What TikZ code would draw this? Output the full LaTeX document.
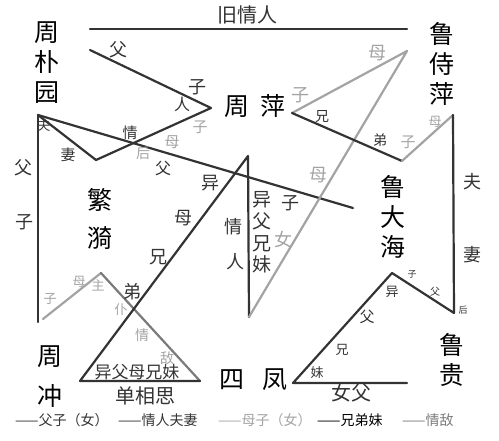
\documentclass[tikz,border=0pt]{standalone}
\usepackage{fontspec}
\setmainfont{Noto Sans CJK SC}
\definecolor{dk}{HTML}{333333}
\definecolor{lg}{HTML}{A3A3A3}
\definecolor{mg}{HTML}{7A7A7A}
\begin{document}
\begin{tikzpicture}[x=1pt,y=-1pt,
  dline/.style={draw=dk, line width=2.2pt, line join=round, line cap=round},
  lline/.style={draw=lg, line width=2.2pt, line join=round, line cap=round},
  mline/.style={draw=mg, line width=2.2pt, line join=round, line cap=round},
  nm/.style={inner sep=0pt, align=center, text=black, font=\fontsize{25}{30}\selectfont},
  lb/.style={inner sep=0pt, align=center, text=dk, font=\fontsize{#1}{#1}\selectfont},
  gl/.style={inner sep=0pt, align=center, text=lg, font=\fontsize{#1}{#1}\selectfont},
  lgd/.style={inner sep=0pt, anchor=west, font=\fontsize{14}{14}\selectfont}]
\useasboundingbox (0,0) rectangle (499,440);
% vertices
\coordinate (ta) at (90,29);
\coordinate (tb) at (407,29);
\coordinate (fa) at (90,50);
\coordinate (fb) at (211,108);
\coordinate (zp) at (38,115);
\coordinate (fy) at (96,160);
\coordinate (hd) at (353,208);
\coordinate (zb) at (38,322);
\coordinate (cz) at (43,319);
\coordinate (ft) at (101,273);
\coordinate (te) at (200,381);
\coordinate (tl) at (80,381);
\coordinate (vt) at (248,156);
\coordinate (vb) at (249,317);
\coordinate (lm) at (407,51);
\coordinate (pr) at (292,113);
\coordinate (db) at (402,161);
\coordinate (rt) at (453,115);
\coordinate (rb) at (454,313);
\coordinate (rp) at (392,273);
\coordinate (fl) at (293,383);
\coordinate (fr) at (407,383);
% lines
\draw[dline] (ta) -- (tb);
\draw[dline] (fa) -- (fb);
\draw[dline] (zp) -- (fy) -- (fb);
\draw[dline] (zp) -- (hd);
\draw[dline] (zp) -- (zb);
\draw[lline] (cz) -- (ft);
\draw[mline] (ft) -- (te);
\draw[dline] (te) -- (tl) -- (vt) -- (vb);
\draw[lline] (vb) -- (lm) -- (pr);
\draw[dline] (pr) -- (db);
\draw[lline] (db) -- (rt);
\draw[dline] (rt) -- (rb) -- (rp) -- (fl) -- (fr);
% names
\node[nm] (n1) at (47,63) {周\\朴\\园};
\node[nm] (n2) at (255,106) {周\hspace{11pt}萍};
\node[nm] (n3) at (442,64) {鲁\\侍\\萍};
\node[nm, font=\fontsize{25}{38}\selectfont] (n4) at (100,219) {繁\\漪};
\node[nm] (n5) at (393,217) {鲁\\大\\海};
\node[nm, font=\fontsize{25}{40}\selectfont] (n6) at (50,377) {周\\冲};
\node[nm] (n7) at (253,380) {四\hspace{18pt}凤};
\node[nm] (n8) at (452,360) {鲁\\贵};
\node[lb=20] (t1) at (247,15) {旧情人};
\node[lb=20] (t2) at (145,396) {单相思};
\node[lb=20] (t3) at (351,393) {女父};
\node[lb=17] (t4) at (137,372) {异父母兄妹};
% dark relation labels
\node[lb=18] (a1) at (118,50) {父};
\node[lb=18] (a2) at (197,87) {子};
\node[lb=16] (a3) at (182,104) {人};
\node[lb=13] (a4) at (44,126) {夫};
\node[lb=15] (a5) at (68,155) {妻};
\node[lb=15] (a6) at (130,133) {情};
\node[lb=16] (a7) at (163,168) {父};
\node[lb=18] (a8) at (23,168) {父};
\node[lb=18] (a9) at (25,222) {子};
\node[lb=18] (b1) at (210,183) {异};
\node[lb=18] (b2) at (183,218) {母};
\node[lb=18] (b3) at (158,257) {兄};
\node[lb=18] (b4) at (132,292) {弟};
\node[lb=18] (b5) at (233,227) {情};
\node[lb=18] (b6) at (235,262) {人};
\node[inner sep=0pt, align=center, text=dk, font=\fontsize{19}{21.7}\selectfont] (b7) at (262,232.5) {异\\父\\兄\\妹};
\node[lb=18] (b8) at (290,203) {子};
\node[lb=14] (c1) at (322,117) {兄};
\node[lb=14] (c2) at (380,140) {弟};
\node[lb=18] (c3) at (472,182) {夫};
\node[lb=18] (c4) at (472,255) {妻};
\node[lb=9] (c5) at (412,274) {子};
\node[lb=10] (c6) at (435,292) {父};
\node[lb=13] (c7) at (392,292) {异};
\node[lb=9] (c8) at (463,310) {后};
\node[lb=15] (c9) at (367,317) {父};
\node[lb=13] (d1) at (342,350) {兄};
\node[lb=13] (d2) at (317,373) {妹};
% gray relation labels
\node[gl=15] (g1) at (200,127) {子};
\node[gl=15] (g2) at (172,142) {母};
\node[gl=14] (g3) at (143,153) {后};
\node[gl=18] (g4) at (300,95) {子};
\node[gl=18] (g5) at (377,53) {母};
\node[gl=18] (g6) at (318,175) {母};
\node[gl=18] (g7) at (283,240) {女};
\node[gl=15] (g8) at (408,142) {子};
\node[gl=13] (g9) at (435,122) {母};
\node[gl=13] (h1) at (50,299) {子};
\node[gl=13] (h2) at (79,282) {母};
\node[gl=13] (h3) at (98,285) {主};
\node[gl=13] (h4) at (121,310) {仆};
\node[gl=14] (h5) at (142,335) {情};
\node[gl=14] (h6) at (167,358) {敌};
% legend
\node[lgd, text=dk] (l1) at (15,420) {——父子（女）};
\node[lgd, text=dk] (l2) at (118,420) {——情人夫妻};
\node[lgd, text=lg] (l3) at (218,420) {——母子（女）};
\node[lgd, text=black] (l4) at (317,420) {——兄弟妹};
\node[lgd, text=mg] (l5) at (402,420) {——情敌};
\end{tikzpicture}
\end{document}
